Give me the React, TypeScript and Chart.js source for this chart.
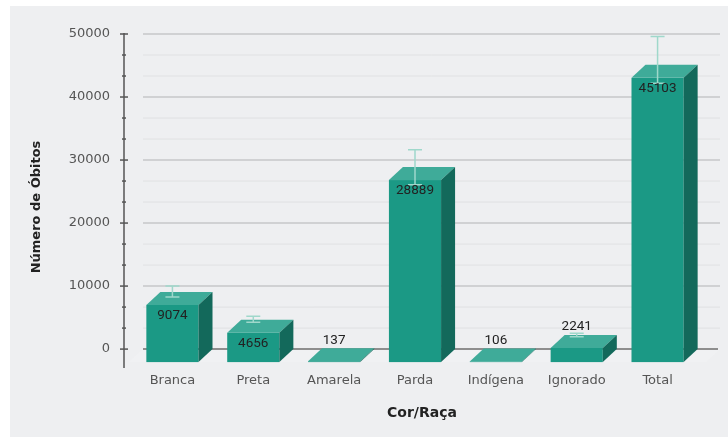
import React, { useEffect, useRef } from 'react';
import { Chart, registerables } from 'chart.js';
Chart.register(...registerables);

const categories = ['Branca', 'Preta', 'Amarela', 'Parda', 'Indígena', 'Ignorado', 'Total'];
const deaths = [9074, 4656, 137, 28889, 106, 2241, 45103];
const ciLow: (number | null)[] = [8270, 4250, null, 26070, null, 1950, 42200];
const ciHigh: (number | null)[] = [10000, 5200, null, 31620, null, 2500, 49600];
const yTickLabels = [0, 10000, 20000, 30000, 40000, 50000];
const minorPerMajor = 3;
const yMin = -3000;
const yMax = 50000;
const yTitle = 'Número de Óbitos';
const xTitle = 'Cor/Raça';

const DX = 14;
const DY = 13;
const FRONT = '#1b9985';
const TOP = '#3fab99';
const SIDE = '#13695b';
const ERR = '#9fd8cb';
const FONT = '"DejaVu Sans", Verdana, sans-serif';

const threeD = {
  id: 'threeD',
  beforeDraw(chart: any) {
    const ctx = chart.ctx;
    ctx.save();
    ctx.fillStyle = '#ffffff';
    ctx.fillRect(0, 0, chart.width, chart.height);
    ctx.fillStyle = '#eeeff1';
    ctx.fillRect(10, 6, chart.width - 10, 431);
    ctx.restore();
  },
  beforeDatasetsDraw(chart: any) {
    const { ctx, chartArea, scales } = chart;
    const y = scales.y;
    const x0 = chartArea.left + 11;
    const x1 = chartArea.right + 22;
    const zy = y.getPixelForValue(0);
    ctx.save();
    // floor
    ctx.fillStyle = 'rgba(255,255,255,0.15)';
    ctx.beginPath();
    ctx.moveTo(x0, zy);
    ctx.lineTo(x1, zy);
    ctx.lineTo(x1 - DX, zy + DY);
    ctx.lineTo(x0 - DX, zy + DY);
    ctx.closePath();
    ctx.fill();
    // back wall grid
    y.ticks.forEach((t: any) => {
      const py = y.getPixelForValue(t.value);
      if (t.value === 0) return;
      ctx.beginPath();
      ctx.strokeStyle = t.isLabel ? '#d0d1d3' : '#e0e1e3';
      ctx.lineWidth = t.isLabel ? 2 : 1;
      ctx.moveTo(x0, py);
      ctx.lineTo(x1, py);
      ctx.stroke();
    });
    ctx.beginPath();
    ctx.strokeStyle = '#8e8e8e';
    ctx.lineWidth = 2;
    ctx.moveTo(x0, zy);
    ctx.lineTo(x1 - 2, zy);
    ctx.stroke();
    // axis line + ticks
    const ax = chartArea.left - 8;
    ctx.beginPath();
    ctx.strokeStyle = '#555';
    ctx.lineWidth = 1.5;
    ctx.moveTo(ax, chartArea.top - 1);
    ctx.lineTo(ax, chartArea.bottom);
    ctx.stroke();
    y.ticks.forEach((t: any) => {
      const py = y.getPixelForValue(t.value);
      const half = t.isLabel ? 4 : 2;
      ctx.beginPath();
      ctx.moveTo(ax - half, py);
      ctx.lineTo(ax + half, py);
      ctx.stroke();
    });
    ctx.restore();
  },
  afterDatasetsDraw(chart: any) {
    const { ctx, scales } = chart;
    const y = scales.y;
    const meta = chart.getDatasetMeta(0);
    ctx.save();
    meta.data.forEach((bar: any) => {
      const { x, y: yTop, base, width } = bar.getProps(['x', 'y', 'base', 'width'], true);
      const l = x - width / 2;
      const r = x + width / 2;
      const ft = yTop + DY;
      const fb = base + DY;
      ctx.fillStyle = FRONT;
      ctx.fillRect(l, ft, width, fb - ft);
      ctx.fillStyle = TOP;
      ctx.beginPath();
      ctx.moveTo(l, ft);
      ctx.lineTo(r, ft);
      ctx.lineTo(r + DX, yTop);
      ctx.lineTo(l + DX, yTop);
      ctx.closePath();
      ctx.fill();
      ctx.fillStyle = SIDE;
      ctx.beginPath();
      ctx.moveTo(r, ft);
      ctx.lineTo(r + DX, yTop);
      ctx.lineTo(r + DX, base);
      ctx.lineTo(r, fb);
      ctx.closePath();
      ctx.fill();
    });
    // error bars
    ctx.strokeStyle = ERR;
    ctx.lineWidth = 1.5;
    meta.data.forEach((bar: any, i: number) => {
      const lo = ciLow[i];
      const hi = ciHigh[i];
      if (lo == null || hi == null) return;
      const x = bar.x;
      const pl = y.getPixelForValue(lo);
      const ph = y.getPixelForValue(hi);
      ctx.beginPath();
      ctx.moveTo(x, pl);
      ctx.lineTo(x, ph);
      ctx.moveTo(x - 7, ph);
      ctx.lineTo(x + 7, ph);
      ctx.moveTo(x - 7, pl);
      ctx.lineTo(x + 7, pl);
      ctx.stroke();
    });
    // value labels
    ctx.fillStyle = '#222';
    ctx.font = '13.5px Roboto, sans-serif';
    ctx.textAlign = 'center';
    ctx.textBaseline = 'middle';
    meta.data.forEach((bar: any, i: number) => {
      const { x, y: yTop, base } = bar.getProps(['x', 'y', 'base'], true);
      const h = base - yTop;
      const ly = h > 20 ? yTop + DY + 11 : yTop - 8;
      ctx.fillText(String(deaths[i]), x, ly);
    });
    ctx.restore();
  },
  afterDraw(chart: any) {
    const ctx = chart.ctx;
    ctx.save();
    ctx.fillStyle = '#222';
    ctx.textAlign = 'center';
    ctx.textBaseline = 'middle';
    ctx.font = `bold 13px ${FONT}`;
    ctx.translate(37, 207);
    ctx.rotate(-Math.PI / 2);
    ctx.fillText(yTitle, 0, 0);
    ctx.restore();
    ctx.save();
    ctx.fillStyle = '#222';
    ctx.textAlign = 'center';
    ctx.textBaseline = 'middle';
    ctx.font = `bold 14px ${FONT}`;
    ctx.fillText(xTitle, 422, 413);
    ctx.restore();
  },
};

export default function App() {
  const ref = useRef<HTMLCanvasElement>(null);
  useEffect(() => {
    if (!ref.current) return;
    const chart = new Chart(ref.current, {
      type: 'bar',
      data: {
        labels: categories,
        datasets: [
          {
            label: yTitle,
            data: deaths,
            backgroundColor: 'rgba(0,0,0,0)',
            borderWidth: 0,
            categoryPercentage: 1,
            barPercentage: 0.645,
          },
        ],
      },
      options: {
        responsive: false,
        animation: false,
        devicePixelRatio: 1,
        layout: { padding: { top: 34, right: 30, left: 0, bottom: 0 } },
        plugins: { legend: { display: false }, tooltip: { enabled: false } },
        scales: {
          x: {
            grid: { display: false, drawTicks: false },
            border: { display: false },
            ticks: { color: '#555', font: { family: FONT, size: 13 }, padding: 5, maxRotation: 0 },
            afterFit(scale: any) {
              scale.height = 70;
            },
          },
          y: {
            min: yMin,
            max: yMax,
            grid: { display: false, drawTicks: false },
            border: { display: false },
            ticks: {
              color: '#555',
              font: { family: FONT, size: 13 },
              padding: 22,
              callback: (v: any, i: number, ticks: any[]) => (ticks[i] && ticks[i].isLabel ? String(v) : ''),
            },
            afterBuildTicks(scale: any) {
              const list: any[] = [];
              for (let k = 0; k < yTickLabels.length; k++) {
                list.push({ value: yTickLabels[k], isLabel: true });
                if (k < yTickLabels.length - 1) {
                  const step = (yTickLabels[k + 1] - yTickLabels[k]) / minorPerMajor;
                  for (let m = 1; m < minorPerMajor; m++) {
                    list.push({ value: yTickLabels[k] + step * m, isLabel: false });
                  }
                }
              }
              scale.ticks = list;
            },
            afterFit(scale: any) {
              scale.width = 132;
            },
          },
        },
      },
      plugins: [threeD],
    });
    return () => chart.destroy();
  }, []);
  return (
    <div style={{ position: 'absolute', left: 0, top: 0, width: 728, height: 438 }}>
      <canvas ref={ref} width={728} height={438} style={{ display: 'block' }} />
    </div>
  );
}
